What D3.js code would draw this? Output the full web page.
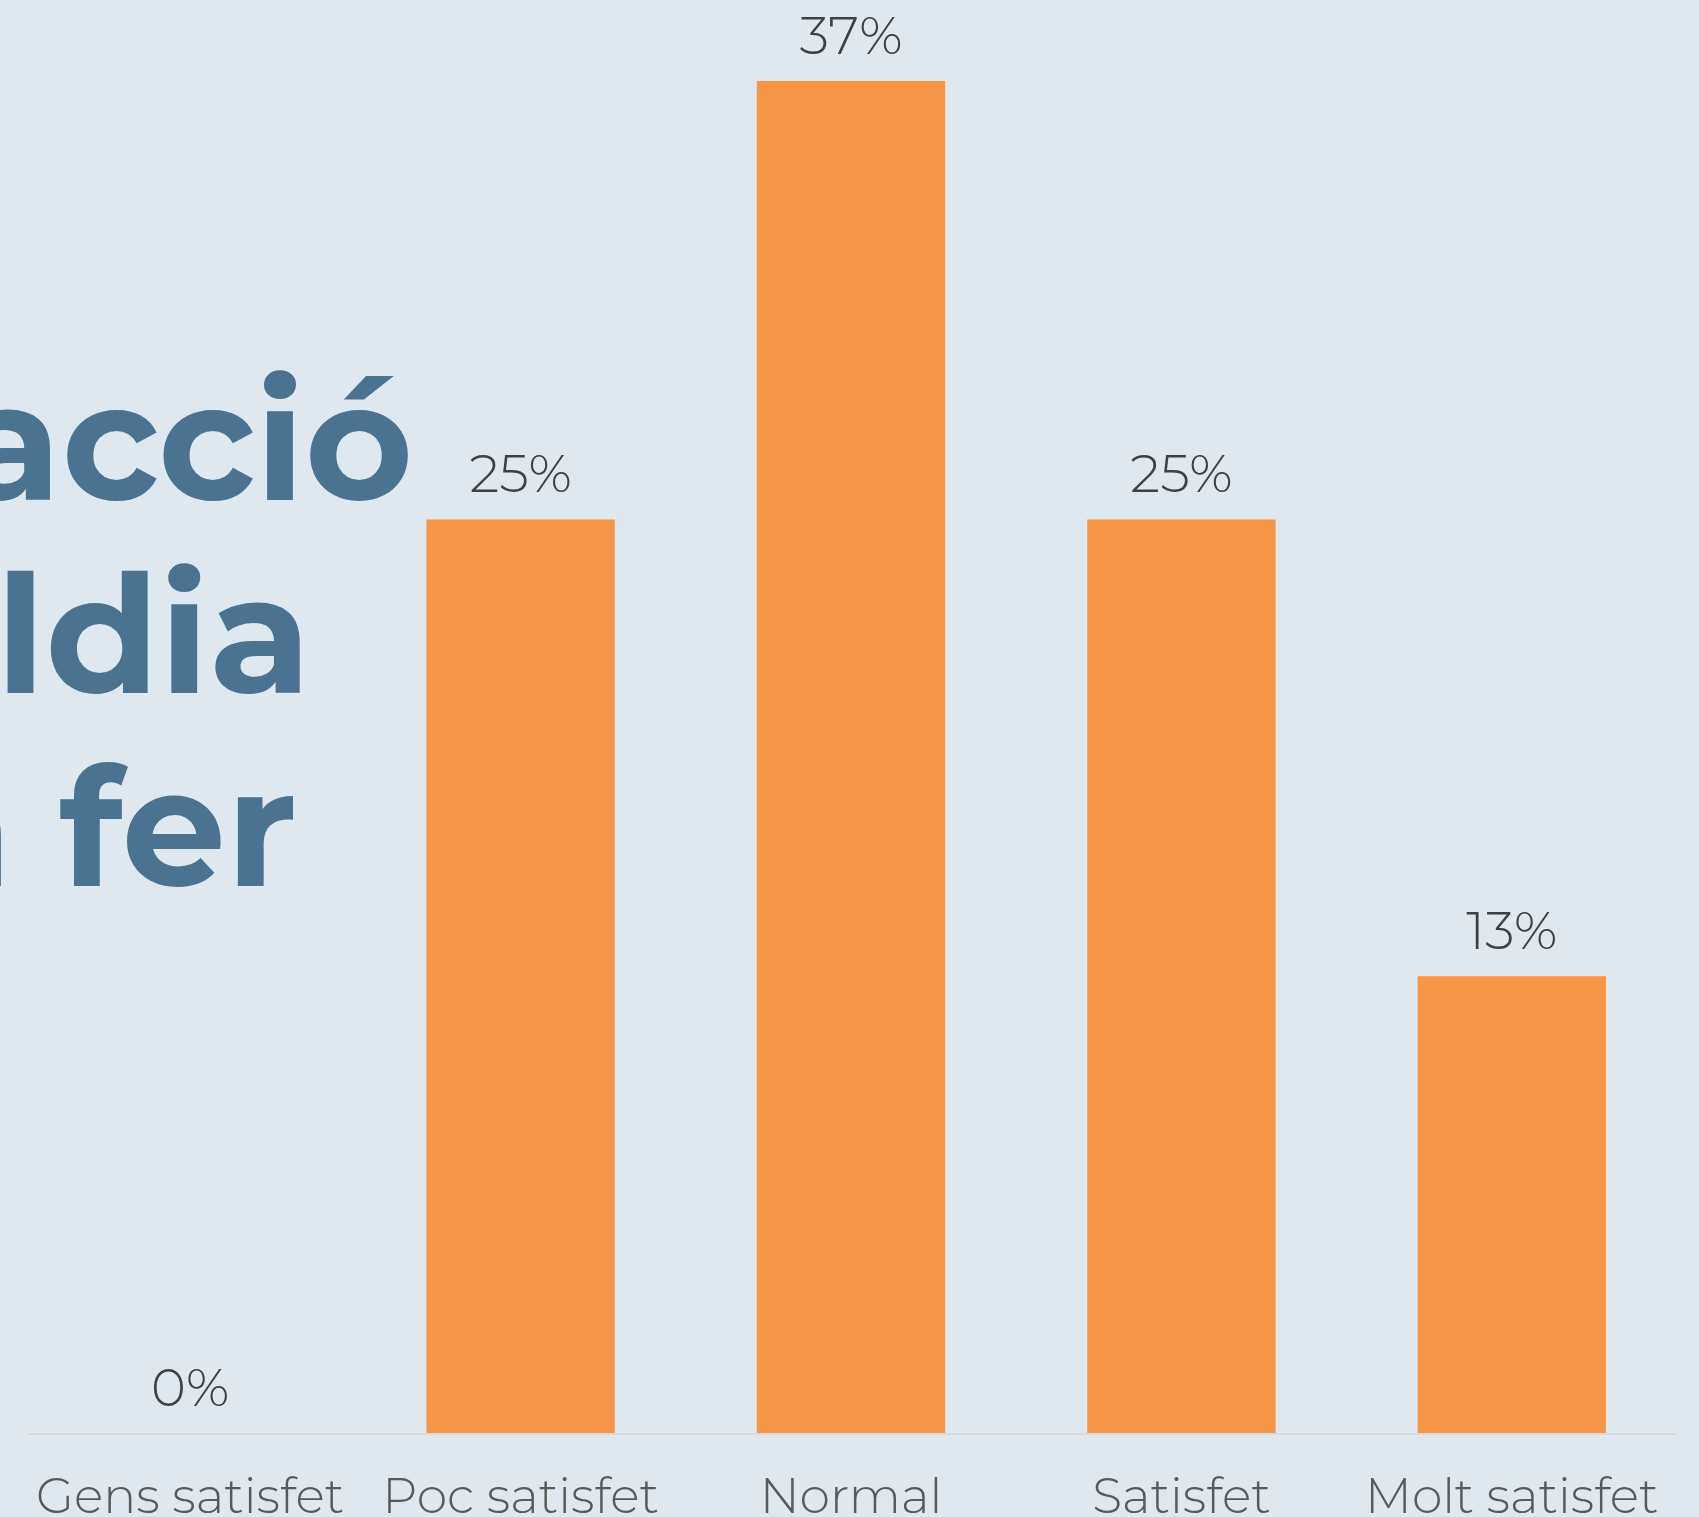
<!DOCTYPE html>
<html>
<head>
<meta charset="utf-8">
<script src="https://cdn.jsdelivr.net/npm/d3@7"></script>
<style>
  body { margin: 0; background: #dee8ee; overflow: hidden; }
</style>
</head>
<body>
<div class="chart"></div>
<script>
var categories = ["Gens satisfet", "Poc satisfet", "Normal", "Satisfet", "Molt satisfet"]
var values = [0, 25, 37, 25, 12.5]
var valueLabels = ["0%", "25%", "37%", "25%", "13%"]
var titleLines = ["acció", "ldia", "n fer"]

var width = 1699, height = 1517

var svg = d3.select(".chart")
    .append("svg")
    .attr("width", width)
    .attr("height", height)

svg.append("rect")
    .attr("width", width)
    .attr("height", height)
    .style("fill", "#dee8ee")

// title (cut off on the left, as in the original slide)
svg.selectAll(".title")
    .data(titleLines)
    .enter()
    .append("text")
    .attr("class", "title")
    .attr("x", (d, i) => [413, 311, 297][i])
    .attr("y", (d, i) => 500 + i * 193)
    .attr("text-anchor", "end")
    .text(d => d)
    .style("font-size", "165px")
    .attr("font-family", "Montserrat, 'Open Sans', sans-serif")
    .attr("font-weight", "bold")
    .attr("fill", "#4a7391")

var x = d3.scaleBand()
    .domain(categories)
    .range([25, 1677])
    .paddingInner(0.43)
    .paddingOuter(0.215)

var y = d3.scaleLinear()
    .domain([0, 37])
    .range([1433, 81])

svg.selectAll(".bar")
    .data(values)
    .enter()
    .append("rect")
    .attr("class", "bar")
    .attr("x", (d, i) => x(categories[i]))
    .attr("y", d => y(d))
    .attr("width", x.bandwidth())
    .attr("height", d => y(0) - y(d))
    .style("fill", "#f79646")

// baseline
svg.append("line")
    .attr("x1", 28)
    .attr("x2", 1677)
    .attr("y1", y(0) + 1)
    .attr("y2", y(0) + 1)
    .style("stroke", "#d9d9d9")
    .style("stroke-width", 2)

// value labels
svg.selectAll(".val")
    .data(values)
    .enter()
    .append("text")
    .attr("class", "val")
    .attr("x", (d, i) => x(categories[i]) + x.bandwidth() / 2)
    .attr("y", d => y(d) - 27)
    .attr("text-anchor", "middle")
    .text((d, i) => valueLabels[i])
    .style("font-size", "53px")
    .attr("font-family", "Montserrat, 'Open Sans', sans-serif")
    .attr("font-weight", 300)
    .attr("fill", "#404040")

// category labels
svg.selectAll(".cat")
    .data(categories)
    .enter()
    .append("text")
    .attr("class", "cat")
    .attr("x", d => x(d) + x.bandwidth() / 2)
    .attr("y", 1513)
    .attr("text-anchor", "middle")
    .text(d => d)
    .style("font-size", "49px")
    .attr("font-family", "Montserrat, 'Open Sans', sans-serif")
    .attr("font-weight", 300)
    .attr("fill", "#595959")
</script>
</body>
</html>
